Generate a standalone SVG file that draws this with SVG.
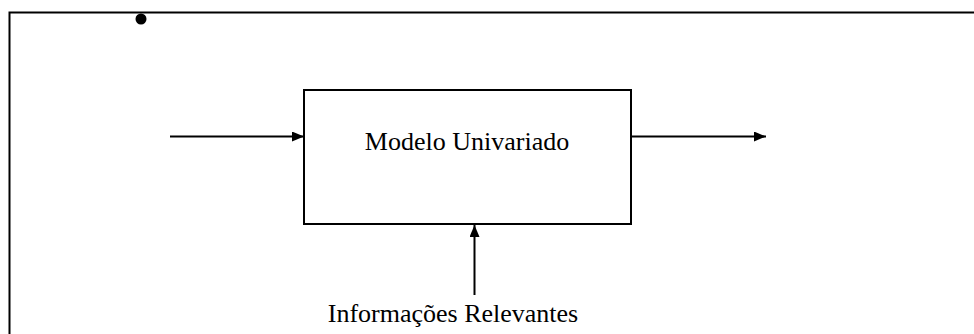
<svg xmlns="http://www.w3.org/2000/svg" width="974" height="334" viewBox="0 0 974 334">
<style>
.ln{stroke:#000;stroke-width:2;fill:none}
.t{font-family:"Liberation Serif","Times New Roman",serif;font-size:26px;fill:#000}
</style>
<defs>
<marker id="ah" markerWidth="12" markerHeight="10" refX="12" refY="5" orient="auto" markerUnits="userSpaceOnUse">
<path d="M0,0 L12,5 L0,10 Z" fill="#000"/>
</marker>
</defs>
<rect width="974" height="334" fill="#fff"/>
<g id="frame">
<path class="ln" d="M9.5,334 L9.5,12.5 L974,12.5"/>
<circle cx="141" cy="19" r="5.5" fill="#000"/>
</g>
<g id="modelo">
<rect class="ln" x="304" y="90" width="327" height="134" fill="#fff"/>
<text class="t" x="467" y="150" text-anchor="middle">Modelo Univariado</text>
</g>
<g id="info">
<text class="t" x="453" y="322" text-anchor="middle">Informações Relevantes</text>
</g>
<g id="connectors">
<line class="ln" x1="170" y1="136.5" x2="304" y2="136.5" marker-end="url(#ah)"/>
<line class="ln" x1="631" y1="136.5" x2="766" y2="136.5" marker-end="url(#ah)"/>
<line class="ln" x1="474.5" y1="295" x2="474.5" y2="225" marker-end="url(#ah)"/>
</g>
</svg>
